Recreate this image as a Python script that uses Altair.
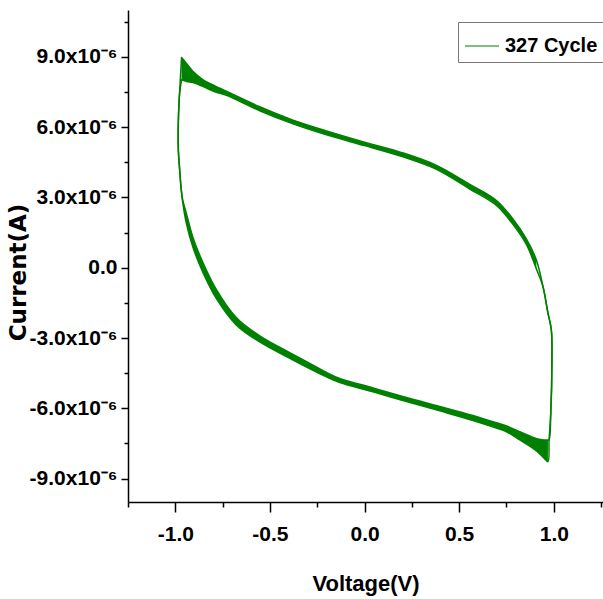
import altair as alt
import pandas as pd

# ---- data (V in volts, I in units of 1e-6 A) ----
series_name = "327 Cycle"

# forward scan (upper branch): outer and inner edge of the band of cycles
upper_v = [-0.967, -0.939, -0.906, -0.853, -0.791, -0.730, -0.554, -0.378, -0.201, 0.0,
           0.203, 0.380, 0.556, 0.697, 0.784, 0.855, 0.908]
upper_outer = [8.97, 8.70, 8.37, 8.02, 7.76, 7.53, 6.87, 6.30, 5.84, 5.36,
               4.90, 4.37, 3.56, 2.87, 2.08, 1.23, 0.33]
upper_inner = [8.02, 7.95, 7.90, 7.73, 7.51, 7.36, 6.70, 6.14, 5.67, 5.21,
               4.73, 4.20, 3.36, 2.66, 1.85, 0.99, -0.05]

# switching at +1 V
right_v = [0.943, 0.969, 0.987, 0.990, 0.984, 0.975]
right_i = [-0.81, -1.93, -2.66, -4.07, -6.20, -7.35]

# reverse scan (lower branch)
lower_v = [0.969, 0.947, 0.915, 0.873, 0.820, 0.750, 0.661, 0.573, 0.397, 0.221, 0.045,
           -0.131, -0.201, -0.378, -0.554, -0.677, -0.782, -0.853, -0.906, -0.941, -0.962]
lower_outer = [-8.28, -8.12, -7.86, -7.61, -7.35, -7.00, -6.75, -6.52, -6.11, -5.71, -5.30,
               -4.90, -4.66, -3.94, -3.17, -2.45, -1.33, -0.22, 0.85, 1.87, 2.85]
lower_inner = [-7.35, -7.35, -7.31, -7.18, -7.00, -6.75, -6.53, -6.31, -5.92, -5.54, -5.13,
               -4.73, -4.47, -3.70, -2.91, -2.14, -0.95, 0.20, 1.27, 2.30, 2.94]

# switching at -1 V
left_v = [-0.971, -0.977, -0.984, -0.985, -0.983, -0.978]
left_i = [3.54, 4.18, 5.03, 5.67, 6.52, 7.38]

x_ticks = [-1.25, -1.0, -0.75, -0.5, -0.25, 0.0, 0.25, 0.5, 0.75, 1.0, 1.25]
y_ticks = [-9, -7.5, -6, -4.5, -3, -1.5, 0, 1.5, 3, 4.5, 6, 7.5, 9, 10.5]

GREEN = "#008000"
FONT = "Liberation Sans, Arial, sans-serif"

# ---- tables ----
area_up = pd.DataFrame({"V": upper_v, "I": upper_outer, "I2": upper_inner})
area_lo = pd.DataFrame({"V": lower_v, "I": lower_inner, "I2": lower_outer})

rows = []
for path, up, lo in (("outer", upper_outer, lower_outer), ("inner", upper_inner, lower_inner)):
    pts = list(zip(upper_v, up)) + list(zip(right_v, right_i)) + list(zip(lower_v, lo)) \
        + list(zip(left_v, left_i)) + [(upper_v[0], up[0])]
    for k, (v, i) in enumerate(pts):
        rows.append({"V": v, "I": i, "path": path, "ord": k, "series": series_name})
loop = pd.DataFrame(rows)

x_axis = alt.Axis(
    values=x_ticks,
    labelExpr="abs(datum.value % 0.5) < 0.001 ? (datum.value < 0 ? '-' : '') + format(abs(datum.value), '.1f') : ''",
    tickSize={"condition": {"test": "abs(datum.value % 0.5) < 0.001", "value": 10}, "value": 5},
    labelPadding=11,
    labelFont=FONT, labelFontSize=21, labelFontWeight="bold", labelColor="black",
    title="Voltage(V)", titleFont=FONT, titleFontSize=22, titleFontWeight="bold", titleColor="black",
    titleBaseline="alphabetic", titleAlign="center", titleX=237.5, titleY=88,
    grid=False, domainColor="black", domainWidth=1.5, tickColor="black", tickWidth=1.5,
    labelFlush=False, labelOverlap=False,
)
y_axis = alt.Axis(
    values=y_ticks,
    labelExpr="abs(datum.value % 3) < 0.001 ? (datum.value == 0 ? '0.0' : (datum.value < 0 ? '-' : '') + format(abs(datum.value), '.1f') + 'x10⁻⁶') : ''",
    tickSize={"condition": {"test": "abs(datum.value % 3) < 0.001", "value": 7}, "value": 4},
    labelPadding=4,
    labelFont=FONT, labelFontSize=21, labelFontWeight="bold", labelColor="black",
    title="Current(A)", titleFont="DejaVu Sans", titleFontSize=23, titleFontWeight="bold", titleColor="black",
    titleAngle=270, titleBaseline="alphabetic", titleAlign="center", titleX=-103, titleY=262,
    grid=False, domainColor="black", domainWidth=1.5, tickColor="black", tickWidth=1.5,
    labelFlush=False, labelOverlap=False,
)

xs = alt.Scale(domain=[-1.25, 1.26], nice=False, zero=False)
ys = alt.Scale(domain=[-10, 11], nice=False, zero=False)

up_layer = alt.Chart(area_up).mark_area(color=GREEN, opacity=1, interpolate="monotone").encode(
    x=alt.X("V:Q", scale=xs, axis=x_axis),
    y=alt.Y("I:Q", scale=ys, axis=y_axis),
    y2="I2:Q",
)
lo_layer = alt.Chart(area_lo).mark_area(color=GREEN, opacity=1, interpolate="monotone").encode(
    x=alt.X("V:Q", scale=xs, axis=x_axis),
    y=alt.Y("I:Q", scale=ys, axis=y_axis),
    y2="I2:Q",
)
line_layer = alt.Chart(loop).mark_line(strokeWidth=1.5, strokeJoin="round", strokeCap="round",
                                       interpolate="catmull-rom").encode(
    x=alt.X("V:Q", scale=xs, axis=x_axis),
    y=alt.Y("I:Q", scale=ys, axis=y_axis),
    color=alt.Color("series:N", scale=alt.Scale(range=[GREEN]),
                    legend=alt.Legend(title=None, orient="none", legendX=330, legendY=12,
                                      symbolType="stroke", symbolSize=1156, symbolStrokeWidth=1.2,
                                      labelFont=FONT, labelFontSize=20, labelFontWeight="bold",
                                      labelColor="black", labelOffset=5, padding=6,
                                      strokeColor="#777777", fillColor="white", cornerRadius=0)),
    detail="path:N",
    order="ord:Q",
)

chart = alt.layer(up_layer, lo_layer, line_layer).properties(
    width=475, height=492,
    autosize=alt.AutoSizeParams(type="none"),
    padding={"left": 128, "top": 10, "right": 0, "bottom": 97},
    background="white",
).configure_view(stroke=None)

chart.save("out.html", embed_options={"renderer": "svg", "actions": False})
